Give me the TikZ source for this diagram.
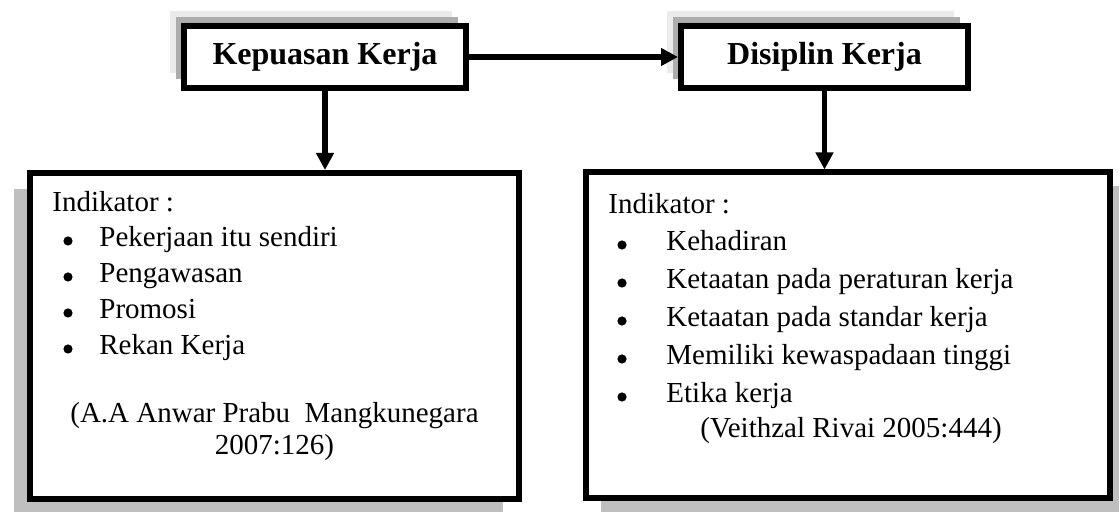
\documentclass[tikz,border=0pt]{standalone}
\usepackage{fontspec}
\setmainfont{Liberation Serif}
\usetikzlibrary{arrows.meta,shadows}

\begin{document}
\begin{tikzpicture}[x=0.5pt,y=-0.5pt,
    font=\fontsize{14.5}{18}\selectfont,
    judul/.style={draw,line width=3pt,fill=white,inner sep=0pt,minimum height=31pt,
      font=\bfseries\fontsize{16}{19}\selectfont,
      general shadow={shadow xshift=-7pt,shadow yshift=7.5pt,fill=black!8},
      general shadow={shadow xshift=-4pt,shadow yshift=4.5pt,fill=black!32}},
    indikator/.style={draw,line width=3pt,fill=white,inner sep=0pt,minimum height=163pt},
    isi/.style={anchor=base west,inner sep=0pt},
    titik/.style={circle,fill,inner sep=0pt,minimum size=4.6pt},
    panah/.style={line width=2.8pt,-{Triangle[length=8.5pt,width=8.5pt]}}]
  \useasboundingbox (0,0) rectangle (1119,512);

  % kotak variabel
  \node[judul,minimum width=141pt] (kk) at (325,57) {Kepuasan Kerja};
  \node[judul,minimum width=143.5pt] (dk) at (824.5,57) {Disiplin Kerja};

  % kotak indikator
  \node[indikator,minimum width=244.5pt,
    general shadow={shadow xshift=-8pt,shadow yshift=-8pt,fill=black!25}] (ik) at (274.5,336) {};
  \node[indikator,minimum width=262pt,
    general shadow={shadow xshift=7.5pt,shadow yshift=-7pt,fill=black!25}] (id) at (848,335.5) {};

  \draw[panah] (kk.east) -- (dk.west);
  \draw[panah] (kk.south) -- (kk.south |- ik.north);
  \draw[panah] (dk.south) -- (dk.south |- id.north);

  % isi kiri
  \node[isi] (ik-judul) at (52,212) {Indikator :};
  \foreach \isi [count=\i] in {Pekerjaan itu sendiri,Pengawasan,Promosi,Rekan Kerja}{
    \node[titik] (ik-b\i) at (68,{205+36*\i}) {};
    \node[isi] (ik-\i) at (99,{211+36*\i}) {\isi};
  }
  \node[anchor=base,inner sep=0pt] (ik-s1) at (274.5,423) {(A.A Anwar Prabu~ Mangkunegara};
  \node[anchor=base,inner sep=0pt] (ik-s2) at (274.5,455) {2007:126)};

  % isi kanan
  \node[isi] (id-judul) at (608,214) {Indikator :};
  \foreach \isi [count=\i] in {Kehadiran,Ketaatan pada peraturan kerja,
      Ketaatan pada standar kerja,Memiliki kewaspadaan tinggi,Etika kerja}{
    \node[titik] (id-b\i) at (622,{207+38*\i}) {};
    \node[isi] (id-\i) at (666,{213+38*\i}) {\isi};
  }
  \node[isi] (id-s) at (700,438) {(Veithzal Rivai 2005:444)};
\end{tikzpicture}
\end{document}
